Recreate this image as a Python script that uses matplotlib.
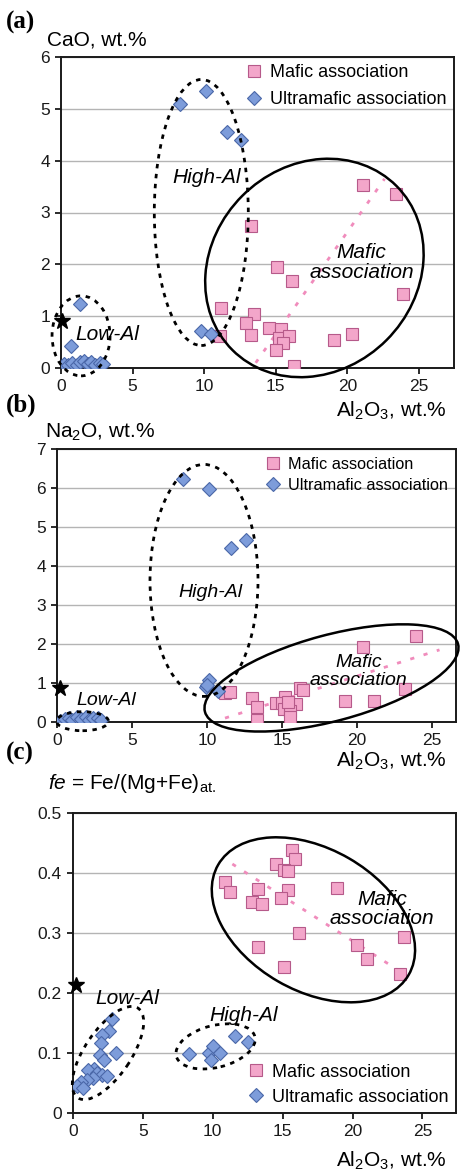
import matplotlib

matplotlib.use('Agg')
import matplotlib.pyplot as plt
import numpy as np
from matplotlib.patches import Ellipse
from matplotlib.transforms import ScaledTranslation
from matplotlib.ticker import FuncFormatter

plt.rcParams['font.family'] = ['Liberation Sans', 'DejaVu Sans']
plt.rcParams['mathtext.fontset'] = 'custom'
plt.rcParams['mathtext.rm'] = 'Liberation Sans'
plt.rcParams['mathtext.it'] = 'Liberation Sans:italic'

# (a) CaO vs Al2O3
a_maf_x = [21.1, 23.4, 13.3, 15.1, 16.1, 23.9, 11.2, 13.5, 12.9, 13.3, 14.5, 15.4,
           15.2, 15.9, 15.5, 15.0, 16.3, 19.1, 20.3, 11.1]
a_maf_y = [3.53, 3.35, 2.74, 1.95, 1.68, 1.43, 1.16, 1.05, 0.86, 0.63, 0.77, 0.76,
           0.58, 0.61, 0.49, 0.34, 0.04, 0.54, 0.65, 0.62]
a_ult_x = [8.3, 10.1, 11.6, 12.6, 9.8, 10.5, 1.3, 0.7,
           0.2, 0.5, 0.8, 1.1, 1.3, 1.6, 1.9, 2.1, 2.4, 2.7, 2.9]
a_ult_y = [5.10, 5.35, 4.56, 4.40, 0.71, 0.65, 1.24, 0.42,
           0.08, 0.05, 0.10, 0.06, 0.12, 0.14, 0.08, 0.12, 0.05, 0.10, 0.08]
a_trend_x = [13.6, 22.6]
a_trend_y = [0.10, 3.65]
a_star = (0.1, 0.9)

# (b) Na2O vs Al2O3
b_maf_x = [11.2, 11.5, 13.0, 13.3, 13.3, 14.6, 15.2, 15.0, 15.9, 15.1, 15.5, 15.5,
           16.2, 16.4, 20.4, 23.9, 19.2, 21.1, 23.2, 15.4]
b_maf_y = [0.74, 0.76, 0.61, 0.38, 0.06, 0.50, 0.65, 0.48, 0.46, 0.34, 0.27, 0.14,
           0.87, 0.82, 1.93, 2.20, 0.53, 0.53, 0.84, 0.52]
b_ult_x = [8.4, 10.1, 11.6, 12.6, 10.1, 9.9, 10.7, 10.0,
           0.2, 0.5, 0.8, 1.0, 1.3, 1.6, 1.9, 2.1, 2.4, 2.7, 2.9]
b_ult_y = [6.24, 5.98, 4.46, 4.67, 1.08, 0.90, 0.80, 0.96,
           0.03, 0.08, 0.10, 0.05, 0.12, 0.08, 0.13, 0.06, 0.10, 0.09, 0.05]
b_trend_x = [11.2, 25.5]
b_trend_y = [0.10, 1.85]
b_star = (0.2, 0.88)

# (c) fe vs Al2O3
c_maf_x = [15.7, 15.9, 14.5, 15.1, 15.4, 10.9, 11.2, 13.2, 15.4, 14.9, 12.8, 13.5,
           18.9, 16.2, 23.7, 13.2, 20.3, 21.0, 15.1, 23.4]
c_maf_y = [0.438, 0.423, 0.415, 0.405, 0.403, 0.385, 0.369, 0.373, 0.372, 0.359,
           0.352, 0.349, 0.375, 0.300, 0.294, 0.276, 0.280, 0.256, 0.243, 0.231]
c_ult_x = [2.8, 2.6, 2.1, 2.0, 3.1, 1.9, 2.2, 1.5, 1.1, 1.7, 2.1, 2.4, 1.4, 1.0,
           0.6, 0.3, 0.7, 8.3, 9.7, 10.0, 9.9, 10.5, 11.6, 12.5]
c_ult_y = [0.156, 0.137, 0.130, 0.116, 0.100, 0.097, 0.089, 0.074, 0.071, 0.066,
           0.063, 0.061, 0.058, 0.055, 0.052, 0.045, 0.042,
           0.098, 0.100, 0.111, 0.088, 0.100, 0.129, 0.119]
c_trend_x = [11.4, 23.4]
c_trend_y = [0.415, 0.236]
c_star = (0.2, 0.213)

x_ticks = [0, 5, 10, 15, 20, 25]
MAF_FACE, MAF_EDGE = '#F3A6CA', '#B65A8A'
ULT_FACE, ULT_EDGE = '#7D9CDA', '#4A67A8'
W, H = 463, 1176

fig = plt.figure(figsize=(W / 100, H / 100), dpi=100)


def px_axes(left, top, right, bottom):
    return fig.add_axes([left / W, 1 - bottom / H, (right - left) / W, (bottom - top) / H])


def ring(ax, cx, cy, w, h, angle, dashed=False):
    # centre in data units, size/tilt in page pixels
    tr = fig.dpi_scale_trans + ScaledTranslation(cx, cy, ax.transData)
    e = Ellipse((0, 0), w / 100, h / 100, angle=angle, transform=tr, fill=False,
                edgecolor='black', lw=2.0 if dashed else 1.8,
                linestyle=(0, (1.6, 2.0)) if dashed else '-', clip_on=False, zorder=4)
    ax.add_patch(e)


def setup(ax, xmax, ymax, ystep, fmt):
    ax.set_xlim(0, xmax)
    ax.set_ylim(0, ymax)
    ax.set_xticks(x_ticks)
    ax.set_yticks(np.arange(0, ymax + ystep / 2, ystep))
    ax.yaxis.set_major_formatter(FuncFormatter(fmt))
    ax.yaxis.grid(True, color='#b4b4b4', lw=1.0)
    ax.set_axisbelow(True)
    for s in ax.spines.values():
        s.set_linewidth(1.4)
        s.set_color('#1a1a1a')
    ax.tick_params(direction='out', length=4, width=1.3, labelsize=12.5, pad=4,
                   colors='#1a1a1a')


def points(ax, mx, my, ux, uy, star, tx, ty):
    ax.plot(tx, ty, color='#F08CBC', lw=2, linestyle=(0, (1.5, 3.5)), zorder=2)
    hm, = ax.plot(mx, my, 's', ms=9, mfc=MAF_FACE, mec=MAF_EDGE, mew=0.8,
                  linestyle='none', zorder=3, label='Mafic association')
    hu, = ax.plot(ux, uy, 'D', ms=7.5, mfc=ULT_FACE, mec=ULT_EDGE, mew=0.8,
                  linestyle='none', zorder=3, label='Ultramafic association')
    ax.plot(*star, '*', ms=12, color='black', clip_on=False, zorder=5)
    return [hm, hu]


int_fmt = lambda v, p: f'{v:g}'

# ---- (a)
ax1 = px_axes(61, 57, 454, 368)
setup(ax1, 27.45, 6, 1, int_fmt)
hs = points(ax1, a_maf_x, a_maf_y, a_ult_x, a_ult_y, a_star, a_trend_x, a_trend_y)
ax1.legend(handles=hs, loc='upper right', frameon=False, fontsize=13, handlelength=0.8,
           handletextpad=0.5, borderaxespad=0.1, labelspacing=0.55, borderpad=0.3)
ring(ax1, 9.8, 3.0, 94, 266, 0, dashed=True)
ring(ax1, 1.4, 0.62, 58, 80, 0, dashed=True)
ring(ax1, 17.7, 1.93, 232, 204, 45)
ax1.text(10.2, 3.67, 'High-Al', style='italic', fontsize=15, ha='center', va='center')
ax1.text(3.2, 0.64, 'Low-Al', style='italic', fontsize=15, ha='center', va='center')
ax1.text(21.0, 2.03, 'Mafic\nassociation', style='italic', fontsize=15, ha='center',
         va='center', linespacing=1.05)

# ---- (b)
ax2 = px_axes(57, 449, 456, 722)
setup(ax2, 26.6, 7, 1, int_fmt)
hs = points(ax2, b_maf_x, b_maf_y, b_ult_x, b_ult_y, b_star, b_trend_x, b_trend_y)
ax2.legend(handles=hs, loc='upper right', frameon=False, fontsize=11.7, handlelength=0.8,
           handletextpad=0.5, borderaxespad=0.2, labelspacing=0.35, borderpad=0.3)
ring(ax2, 9.8, 3.63, 108, 232, 0, dashed=True)
ring(ax2, 1.7, 0.02, 52, 19, 0, dashed=True)
ring(ax2, 18.3, 1.13, 262, 86, 15)
ax2.text(10.2, 3.32, 'High-Al', style='italic', fontsize=14, ha='center', va='center')
ax2.text(3.3, 0.54, 'Low-Al', style='italic', fontsize=14, ha='center', va='center')
ax2.text(20.1, 1.29, 'Mafic\nassociation', style='italic', fontsize=14, ha='center',
         va='center', linespacing=1.05)

# ---- (c)
ax3 = px_axes(73, 813, 456, 1113)
setup(ax3, 27.4, 0.5, 0.1, int_fmt)
hs = points(ax3, c_maf_x, c_maf_y, c_ult_x, c_ult_y, c_star, c_trend_x, c_trend_y)
ax3.legend(handles=hs, loc='lower right', frameon=False, fontsize=13, handlelength=0.8,
           handletextpad=0.5, borderaxespad=0.1, labelspacing=0.45, borderpad=0.3)
ring(ax3, 2.5, 0.1, 108, 46, 56, dashed=True)
ring(ax3, 10.2, 0.111, 81, 42, 14, dashed=True)
ring(ax3, 17.2, 0.322, 220, 142, -30)
ax3.text(12.2, 0.162, 'High-Al', style='italic', fontsize=15, ha='center', va='center')
ax3.text(3.9, 0.19, 'Low-Al', style='italic', fontsize=15, ha='center', va='center')
ax3.text(22.1, 0.34, 'Mafic\nassociation', style='italic', fontsize=15, ha='center',
         va='center', linespacing=1.05)

# panel letters and axis titles (positioned by baseline)
for y, s in [(29, '(a)'), (412, '(b)'), (760, '(c)')]:
    fig.text(6 / W, 1 - y / H, s, fontsize=18, fontweight='bold',
             family='Liberation Serif', va='baseline', ha='left')
fig.text(47 / W, 1 - 45 / H, 'CaO, wt.%', fontsize=15, va='baseline')
fig.text(45 / W, 1 - 438 / H, r'Na$_2$O, wt.%', fontsize=15, va='baseline')
fig.text(48 / W, 1 - 789 / H, r'$\mathit{fe}$ = Fe/(Mg+Fe)$_{\mathregular{at.}}$',
         fontsize=15, va='baseline')
for y in [417, 767, 1167]:
    fig.text(447 / W, 1 - y / H, r'Al$_2$O$_3$, wt.%', fontsize=15, va='baseline',
             ha='right')

fig.savefig('out.png', dpi=100)
